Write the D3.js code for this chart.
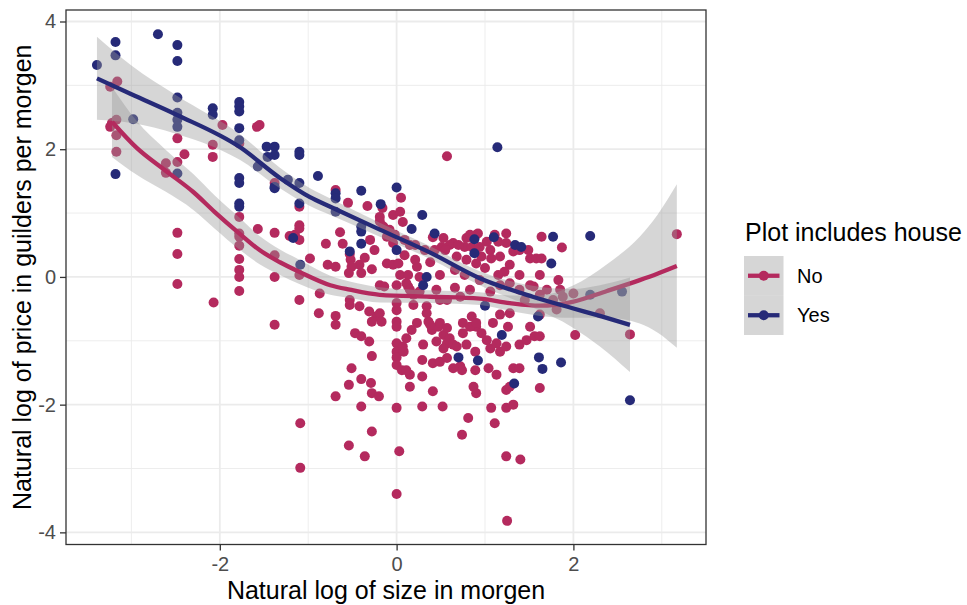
<!DOCTYPE html>
<html><head><meta charset="utf-8">
<script src="https://cdn.jsdelivr.net/npm/d3@7"></script>
<style>body{margin:0;background:#fff} text{font-family:"Liberation Sans",Arial,Helvetica,sans-serif}</style>
</head><body><svg id="c" width="967" height="605"></svg>
<script>
// ---- data ----
const xTicks = [-2, 0, 2];
const yTicks = [-4, -2, 0, 2, 4];
const xMinor = [-3, -1, 1, 3];
const yMinor = [-3, -1, 1, 3];
const groups = ["No", "Yes"];
const groupColors = ["#B42A5E", "#262A78"];

const yesPoints = [[-3.39,3.32],[-3.18,3.68],[-3.18,3.47],[-2.70,3.80],[-2.48,3.63],[-2.48,3.38],[-2.48,2.81],[-2.48,2.57],[-2.48,2.46],[-2.48,2.35],[-2.08,2.64],[-2.08,2.54],[-2.98,2.47],[-3.18,1.61],[-2.48,1.62],[-1.78,2.74],[-1.78,2.67],[-1.78,2.59],[-1.78,2.33],[-1.78,2.14],[-1.78,1.55],[-1.78,1.47],[-1.47,2.04],[-1.38,2.04],[-1.38,1.91],[-1.46,1.88],[-1.57,1.73],[-1.10,1.96],[-1.10,1.91],[-1.23,1.52],[-1.10,1.47],[-1.38,1.41],[-1.78,1.15],[-1.78,1.10],[-1.38,1.39],[-1.10,1.15],[-1.17,0.61],[-0.89,1.58],[-0.69,1.31],[-0.69,1.23],[-0.40,1.35],[0.00,1.40],[-0.18,1.14],[0.29,0.97],[-0.40,0.79],[-0.40,0.71],[-0.40,0.52],[-0.69,1.02],[0.17,0.75],[0.43,0.68],[0.88,0.59],[0.88,0.37],[0.00,0.42],[-0.53,0.40],[0.30,-0.13],[0.34,0.00],[-1.09,0.19],[1.14,2.03],[1.10,0.62],[1.34,0.50],[1.41,0.47],[1.77,0.63],[2.19,0.64],[1.75,0.21],[1.00,-0.45],[1.19,-0.91],[0.70,-1.26],[0.92,-1.31],[1.61,-1.26],[1.65,-1.44],[1.86,-1.34],[1.33,-1.67],[1.60,-0.62],[2.19,-0.28],[2.55,-0.23],[2.64,-1.93]];

const noPoints = [[-3.16,3.06],[-3.24,2.98],[-3.22,2.41],[-3.24,2.35],[-3.17,2.46],[-3.17,2.22],[-3.17,1.96],
[-2.48,2.17],[-2.40,1.92],[-2.48,1.80],[-2.61,1.78],[-2.61,1.63],[-2.08,2.07],[-2.08,1.88],
[-1.97,2.38],[-1.58,2.35],[-1.55,2.38],[-1.78,2.09],[-1.38,1.47],
[-2.48,0.69],[-2.48,0.36],[-2.48,-0.11],[-2.07,-0.40],
[-1.78,0.94],[-1.78,0.68],[-1.78,0.63],[-1.78,0.49],[-1.78,0.28],[-1.78,0.11],[-1.78,0.00],[-1.78,-0.22],
[-1.57,0.75],[-1.38,0.69],[-1.38,0.34],[-1.38,0.00],[-1.38,-0.75],
[-1.21,0.64],[-1.15,0.66],[-1.10,1.10],[-1.10,0.81],[-1.10,0.03],[-1.10,-0.36],
[0.57,1.89],[-0.69,1.36],[-0.55,1.16],[-0.33,1.11],[0.05,1.24],[-0.16,1.08],[-0.04,0.97],
[-1.10,0.76],[-1.10,0.58],
[-0.80,0.52],[-0.61,0.52],[-0.98,0.29],[-0.78,0.19],[-0.69,0.16],[-0.53,0.36],[-0.52,0.27],[-0.42,0.19],[-0.51,0.16],[-0.54,0.06],[-0.40,0.06],[-0.28,0.12],[-0.11,0.21],[-0.04,0.19],[0.02,0.21],[0.04,0.03],[0.13,0.03],[0.23,0.16],[0.26,0.00],[-0.19,-0.13],[0.00,-0.13],[0.13,-0.15],[-0.87,-0.26],[-0.14,-0.15],
[0.41,0.62],[0.53,0.61],[0.51,0.47],[0.64,0.53],[0.77,0.47],[0.79,0.61],[0.90,0.66],[0.68,0.32],[0.79,0.27],[0.90,0.21],
[-0.19,0.94],[-0.19,0.87],[-0.15,0.79],[-0.08,0.74],[-0.02,0.66],[-0.11,0.63],[-0.04,0.53],[0.09,0.58],[0.07,0.86],[0.21,0.50],[0.04,1.02],
[1.64,0.63],[1.87,0.46],[1.83,-0.05],
[0.60,0.50],[0.70,0.50],[0.83,0.66],[0.92,0.68],[0.85,0.47],[0.94,0.47],[1.02,0.55],[1.06,0.42],[1.11,0.66],[1.15,0.55],[1.24,0.68],[1.24,0.53],[1.32,0.40],[1.39,0.42],[1.49,0.42],[1.51,0.29],[1.58,0.29],[1.17,0.32],[1.28,0.19],[1.07,0.29],[0.96,0.32],[0.55,0.42],[0.43,0.42],
[1.28,-0.10],[1.55,-0.15],[1.70,-0.20],[1.88,-0.31],[2.00,-0.26],
[-0.88,-0.57],[-0.69,-0.61],[-0.69,-0.75],[-0.53,-0.44],[-0.42,-0.46],[-0.31,-0.54],[-0.23,-0.62],[-0.19,-0.57],[-0.28,-0.70],[-0.17,-0.70],[-0.47,-0.88],[-0.40,-0.93],[-0.31,-1.01],[-0.28,-1.24],[-0.51,-1.43],[-0.40,-1.60],[-0.54,-1.69],[-0.29,-1.66],[-0.28,-1.82],[-0.20,-1.87],[-0.69,-1.87],[-0.40,-2.03],[-1.09,-2.29],
[0.00,-0.52],[0.00,-0.70],[0.00,-0.78],[0.00,-1.04],[0.00,-1.17],[0.00,-1.26],[0.00,-1.38],[0.08,-1.17],[0.06,-1.46],[0.15,-1.53],[0.15,-1.72],[0.00,-2.05],[0.11,-0.10],
[0.17,-0.83],[0.23,-0.72],[0.30,-1.06],[0.29,-1.30],[0.29,-1.56],[0.41,-1.79],[0.36,-0.70],[0.40,-0.83],[0.47,-0.78],[0.53,-0.91],[0.60,-0.96],[0.57,-1.04],[0.45,-1.01],[0.64,-1.06],[0.41,-1.35],[0.49,-1.33],[0.57,-1.27],[0.29,-2.03],[0.52,-2.03],[0.72,-1.40],[0.74,-1.46],[0.87,-1.72],[0.90,-1.82],[0.81,-2.21],[0.75,-0.72],[0.85,-0.62],[0.90,-0.78],[0.19,-0.28],[0.34,-0.46],[0.34,-0.57],[0.49,-0.36],[-0.53,-0.36],[0.00,-0.41],[0.19,-0.44],[0.45,-0.20],[0.57,-0.36],[0.72,-0.31],
[0.11,-0.96],[0.07,-1.09],[0.38,-0.75],[0.49,-0.72],[0.11,-1.46],[0.57,-0.80],[0.68,-1.09],[0.53,-1.12],[0.64,-1.43],[0.75,-0.88],[0.83,-0.78],[0.90,-0.72],[0.96,-0.88],[1.02,-0.99],[0.79,-1.06],[0.89,-1.17],[1.06,-1.12],[1.13,-1.04],[1.17,-1.17],[1.24,-1.09],[1.26,-0.78],[1.09,-0.72],[1.17,-0.59],[1.28,-0.57],[1.39,-1.06],[1.47,-0.99],[1.56,-0.93],[1.51,-0.78],[1.04,-1.43],[1.13,-1.53],[1.32,-1.43],[1.39,-1.43],[0.89,-1.46],
[1.07,-2.05],[1.11,-2.29],[1.24,-2.05],[1.32,-2.00],[1.24,-1.77],[1.28,-1.72],[1.62,-1.74],[2.02,-0.91],
[-1.09,-2.99],[-0.54,-2.64],[-0.36,-2.81],[-0.28,-2.42],[0.03,-2.73],[0.00,-3.40],[0.74,-2.47],[1.24,-2.81],[1.40,-2.86],[1.25,-3.82],
[1.64,0.29],[3.17,0.67],[1.77,-0.36],[1.81,-0.51],[2.30,-0.57],[1.62,-0.59],[2.64,-0.90],[1.62,-0.93],
[0.15,-0.20],[0.26,-0.23],[0.66,-0.17],[0.83,-0.20],[0.94,-0.05],[1.06,-0.23],[1.17,-0.13],[1.39,-0.20],[1.45,-0.36],[0.66,0.11],[0.77,0.03],[0.49,0.03],[0.38,0.23],[1.39,0.03],[1.22,0.08],[1.62,0.03],[1.62,-0.28],[1.85,-0.20],[0.21,0.27],[0.09,0.34],[-0.25,0.42],[-0.30,0.58],[-0.36,0.30],[-0.64,0.70],[0.15,0.50],[0.32,0.42],[1.00,0.14],[1.15,0.03],[1.51,-0.13]];

// loess smooths: x, fit, lower, upper
const smoothNoX  = [-3.22,-2.94,-2.62,-2.30,-2.06,-1.77,-1.55,-1.32,-1.10,-0.75,-0.53,-0.19,0.38,0.94,1.28,1.62,1.99,2.38,2.75,2.95,3.17];
const smoothNoY  = [2.43,2.02,1.67,1.33,1.02,0.67,0.42,0.23,0.08,-0.13,-0.20,-0.28,-0.31,-0.34,-0.41,-0.45,-0.39,-0.22,-0.05,0.05,0.17];
const smoothNoLo = [1.88,1.60,1.34,1.05,0.76,0.42,0.20,0.03,-0.11,-0.28,-0.33,-0.40,-0.41,-0.44,-0.53,-0.61,-0.64,-0.64,-0.73,-0.87,-1.11];
const smoothNoHi = [2.98,2.44,2.00,1.61,1.28,0.92,0.64,0.43,0.27,0.02,-0.07,-0.16,-0.21,-0.24,-0.29,-0.29,-0.14,0.20,0.63,0.97,1.45];
const smoothYesX  = [-3.39,-3.00,-2.49,-1.77,-1.32,-0.98,-0.75,-0.19,0.38,0.94,1.54,1.99,2.30,2.64];
const smoothYesY  = [3.11,2.86,2.54,2.03,1.55,1.25,1.10,0.74,0.38,-0.02,-0.31,-0.49,-0.61,-0.75];
const smoothYesLo = [2.46,2.41,2.24,1.83,1.39,1.11,0.97,0.63,0.28,-0.13,-0.48,-0.79,-1.09,-1.49];
const smoothYesHi = [3.76,3.31,2.84,2.23,1.71,1.39,1.23,0.85,0.48,0.09,-0.14,-0.19,-0.13,-0.01];

// ---- chart ----
const svg = d3.select("#c");
const P = {l: 66, r: 706, t: 10, b: 544.5};
const x = d3.scaleLinear().domain([-3.74, 3.50]).range([P.l, P.r]);
const y = d3.scaleLinear().domain([-4.19, 4.18]).range([P.b, P.t]);
const color = d3.scaleOrdinal().domain(groups).range(groupColors);
const LW = 4.3;
const R = 5;

svg.append("rect").attr("x", P.l).attr("y", P.t).attr("width", P.r - P.l).attr("height", P.b - P.t).attr("fill", "#fff");

const grid = svg.append("g");
grid.selectAll(".vm").data(xMinor).join("line")
  .attr("x1", d => x(d)).attr("x2", d => x(d)).attr("y1", P.t).attr("y2", P.b)
  .attr("stroke", "#EBEBEB").attr("stroke-width", 0.9);
grid.selectAll(".hm").data(yMinor).join("line")
  .attr("y1", d => y(d)).attr("y2", d => y(d)).attr("x1", P.l).attr("x2", P.r)
  .attr("stroke", "#EBEBEB").attr("stroke-width", 0.9);
grid.selectAll(".vM").data(xTicks).join("line")
  .attr("x1", d => x(d)).attr("x2", d => x(d)).attr("y1", P.t).attr("y2", P.b)
  .attr("stroke", "#EBEBEB").attr("stroke-width", 1.8);
grid.selectAll(".hM").data(yTicks).join("line")
  .attr("y1", d => y(d)).attr("y2", d => y(d)).attr("x1", P.l).attr("x2", P.r)
  .attr("stroke", "#EBEBEB").attr("stroke-width", 1.8);

const pts = svg.append("g");
pts.selectAll(".pn").data(noPoints).join("circle")
  .attr("cx", d => x(d[0])).attr("cy", d => y(d[1])).attr("r", R).attr("fill", color("No"));
pts.selectAll(".py").data(yesPoints).join("circle")
  .attr("cx", d => x(d[0])).attr("cy", d => y(d[1])).attr("r", R).attr("fill", color("Yes"));

function drawSmooth(xs, ys, lo, hi, col) {
  const rows = xs.map((v, i) => ({x: v, y: ys[i], lo: lo[i], hi: hi[i]}));
  const area = d3.area().x(d => x(d.x)).y0(d => y(d.lo)).y1(d => y(d.hi)).curve(d3.curveMonotoneX);
  const line = d3.line().x(d => x(d.x)).y(d => y(d.y)).curve(d3.curveMonotoneX);
  svg.append("path").attr("d", area(rows)).attr("fill", "#999999").attr("fill-opacity", 0.4);
  svg.append("path").attr("d", line(rows)).attr("fill", "none").attr("stroke", col).attr("stroke-width", LW);
}
drawSmooth(smoothNoX, smoothNoY, smoothNoLo, smoothNoHi, color("No"));
drawSmooth(smoothYesX, smoothYesY, smoothYesLo, smoothYesHi, color("Yes"));

svg.append("rect").attr("x", P.l).attr("y", P.t).attr("width", P.r - P.l).attr("height", P.b - P.t)
  .attr("fill", "none").attr("stroke", "#333333").attr("stroke-width", 1.3);

const fmt = d => String(d);
const ax = svg.append("g").attr("transform", `translate(0,${P.b})`)
  .call(d3.axisBottom(x).tickValues(xTicks).tickFormat(fmt).tickSize(6).tickPadding(6));
const ay = svg.append("g").attr("transform", `translate(${P.l},0)`)
  .call(d3.axisLeft(y).tickValues(yTicks).tickFormat(fmt).tickSize(6).tickPadding(4));
[ax, ay].forEach(g => {
  g.select(".domain").remove();
  g.selectAll(".tick line").attr("stroke", "#333333").attr("stroke-width", 1.3);
  g.selectAll(".tick text").attr("fill", "#4D4D4D").style("font-size", "20px")
    .style("font-family", '"Liberation Sans",Arial,Helvetica,sans-serif');
});

svg.append("text").attr("x", (P.l + P.r) / 2).attr("y", 599).attr("text-anchor", "middle")
  .style("font-size", "25px").attr("fill", "#000").text("Natural log of size in morgen");
svg.append("text").attr("transform", `translate(31,${(P.t + P.b) / 2}) rotate(-90)`).attr("text-anchor", "middle")
  .style("font-size", "25px").attr("fill", "#000").text("Natural log of price in guilders per morgen");

// legend
const lg = svg.append("g");
lg.append("text").attr("x", 745).attr("y", 241).style("font-size", "25px").attr("fill", "#000").text("Plot includes house");
groups.forEach((g, i) => {
  const ky = 256 + i * 39.5;
  lg.append("rect").attr("x", 744).attr("y", ky).attr("width", 39.5).attr("height", 39.5)
    .attr("fill", "#999999").attr("fill-opacity", 0.4);
  lg.append("line").attr("x1", 748).attr("x2", 779.5).attr("y1", ky + 19.75).attr("y2", ky + 19.75)
    .attr("stroke", color(g)).attr("stroke-width", LW);
  lg.append("circle").attr("cx", 763.75).attr("cy", ky + 19.75).attr("r", R).attr("fill", color(g));
  lg.append("text").attr("x", 797).attr("y", ky + 19.75).attr("dy", "0.36em").style("font-size", "20px")
    .attr("fill", "#000").text(g);
});
</script></body></html>
